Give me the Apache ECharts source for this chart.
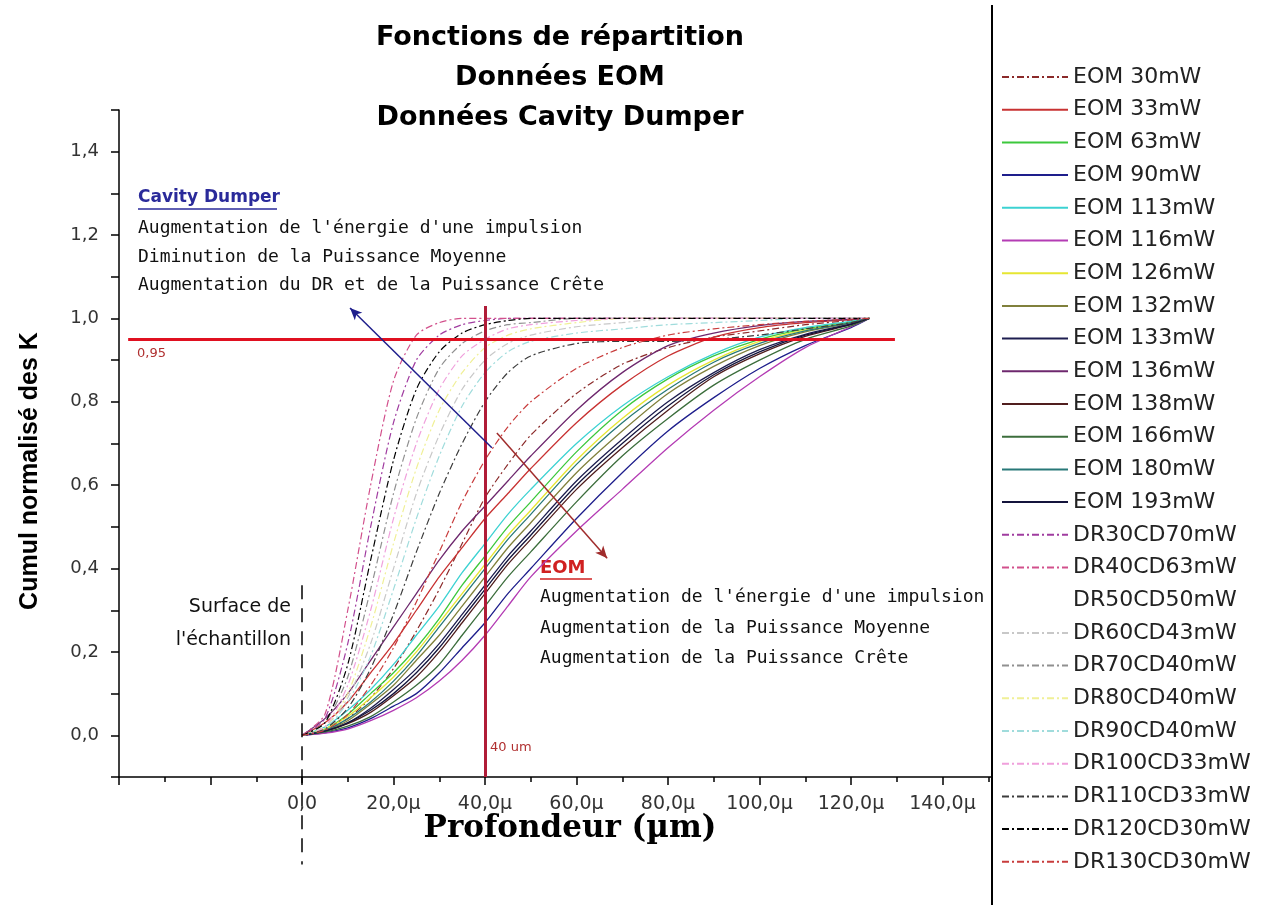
<!DOCTYPE html>
<html>
<head>
<meta charset="utf-8">
<script src="https://cdn.jsdelivr.net/npm/echarts@6/dist/echarts.min.js"></script>
<style>
  html, body { margin: 0; padding: 0; background: #fff; }
  #chart { width: 1284px; height: 908px; }
</style>
</head>
<body>
<div id="chart"></div>
<script>
// profondeur (µm) commune à toutes les courbes
const depth = [0, 5, 10, 15, 20, 25, 30, 35, 40, 45, 50, 60, 70, 80, 90, 100, 110, 120, 124];

// courbes EOM (traits pleins sauf 30mW)
const eom30  = [0, 0.01, 0.04, 0.09, 0.16, 0.25, 0.35, 0.46, 0.57, 0.65, 0.72, 0.82, 0.89, 0.93, 0.955, 0.97, 0.985, 0.995, 1];
const eom33  = [0, 0.03, 0.08, 0.15, 0.22, 0.30, 0.38, 0.45, 0.52, 0.58, 0.64, 0.75, 0.84, 0.91, 0.955, 0.978, 0.99, 0.997, 1];
const eom63  = [0, 0.015, 0.05, 0.10, 0.15, 0.21, 0.28, 0.36, 0.43, 0.50, 0.56, 0.68, 0.78, 0.855, 0.91, 0.95, 0.975, 0.992, 1];
const eom90  = [0, 0.006, 0.018, 0.04, 0.07, 0.10, 0.15, 0.21, 0.27, 0.34, 0.40, 0.52, 0.63, 0.73, 0.81, 0.88, 0.935, 0.978, 1];
const eom113 = [0, 0.02, 0.06, 0.11, 0.17, 0.24, 0.31, 0.39, 0.46, 0.53, 0.59, 0.70, 0.79, 0.86, 0.915, 0.955, 0.978, 0.993, 1];
const eom116 = [0, 0.005, 0.015, 0.035, 0.06, 0.09, 0.13, 0.18, 0.24, 0.31, 0.38, 0.49, 0.59, 0.69, 0.78, 0.86, 0.93, 0.98, 1];
const eom126 = [0, 0.015, 0.045, 0.09, 0.14, 0.20, 0.27, 0.34, 0.41, 0.48, 0.54, 0.66, 0.76, 0.84, 0.90, 0.945, 0.972, 0.99, 1];
const eom132 = [0, 0.012, 0.035, 0.075, 0.12, 0.18, 0.24, 0.31, 0.38, 0.45, 0.51, 0.63, 0.73, 0.82, 0.885, 0.935, 0.968, 0.989, 1];
const eom133 = [0, 0.01, 0.03, 0.065, 0.11, 0.16, 0.22, 0.29, 0.36, 0.43, 0.49, 0.61, 0.71, 0.80, 0.87, 0.925, 0.962, 0.987, 1];
const eom136 = [0, 0.04, 0.10, 0.18, 0.26, 0.34, 0.42, 0.49, 0.55, 0.61, 0.67, 0.78, 0.87, 0.935, 0.965, 0.983, 0.993, 0.998, 1];
const eom138 = [0, 0.01, 0.028, 0.055, 0.095, 0.14, 0.20, 0.27, 0.34, 0.41, 0.47, 0.59, 0.69, 0.78, 0.86, 0.915, 0.957, 0.985, 1];
const eom166 = [0, 0.008, 0.022, 0.045, 0.08, 0.12, 0.17, 0.24, 0.31, 0.38, 0.44, 0.56, 0.67, 0.76, 0.84, 0.90, 0.95, 0.982, 1];
const eom180 = [0, 0.012, 0.04, 0.08, 0.13, 0.19, 0.26, 0.33, 0.40, 0.47, 0.53, 0.65, 0.75, 0.83, 0.895, 0.94, 0.97, 0.99, 1];
const eom193 = [0, 0.01, 0.03, 0.06, 0.10, 0.15, 0.21, 0.28, 0.35, 0.42, 0.48, 0.60, 0.70, 0.79, 0.865, 0.92, 0.96, 0.986, 1];

// courbes Cavity Dumper (tirets)
const dr30cd70  = [0, 0.04, 0.22, 0.50, 0.75, 0.90, 0.96, 0.985, 0.995, 1, 1, 1, 1, 1, 1, 1, 1, 1, 1];
const dr40cd63  = [0, 0.05, 0.30, 0.60, 0.85, 0.96, 0.99, 1, 1, 1, 1, 1, 1, 1, 1, 1, 1, 1, 1];
const dr50cd50  = [0, 0.02, 0.11, 0.28, 0.49, 0.67, 0.80, 0.89, 0.94, 0.965, 0.98, 0.99, 1, 1, 1, 1, 1, 1, 1];
const dr60cd43  = [0, 0.02, 0.09, 0.22, 0.40, 0.58, 0.72, 0.83, 0.90, 0.94, 0.96, 0.98, 0.99, 1, 1, 1, 1, 1, 1];
const dr70cd40  = [0, 0.03, 0.14, 0.35, 0.58, 0.76, 0.88, 0.94, 0.97, 0.985, 0.99, 1, 1, 1, 1, 1, 1, 1, 1];
const dr80cd40  = [0, 0.02, 0.10, 0.26, 0.46, 0.64, 0.78, 0.87, 0.93, 0.96, 0.975, 0.99, 1, 1, 1, 1, 1, 1, 1];
const dr90cd40  = [0, 0.015, 0.08, 0.19, 0.35, 0.52, 0.67, 0.79, 0.87, 0.92, 0.945, 0.965, 0.975, 0.985, 0.99, 0.995, 1, 1, 1];
const dr100cd33 = [0, 0.02, 0.12, 0.30, 0.52, 0.70, 0.83, 0.91, 0.95, 0.975, 0.985, 0.995, 1, 1, 1, 1, 1, 1, 1];
const dr110cd33 = [0, 0.015, 0.065, 0.16, 0.29, 0.44, 0.58, 0.70, 0.80, 0.87, 0.91, 0.94, 0.945, 0.945, 0.95, 0.96, 0.975, 0.99, 1];
const dr120cd30 = [0, 0.03, 0.17, 0.42, 0.66, 0.83, 0.92, 0.965, 0.985, 0.995, 1, 1, 1, 1, 1, 1, 1, 1, 1];
const dr130cd30 = [0, 0.012, 0.05, 0.12, 0.21, 0.32, 0.44, 0.56, 0.66, 0.74, 0.80, 0.88, 0.93, 0.96, 0.975, 0.985, 0.993, 0.998, 1];

const curves = [
  ['EOM 30mW', eom30, '#8b2a2a', true],
  ['EOM 33mW', eom33, '#c83232', false],
  ['EOM 63mW', eom63, '#3cc83c', false],
  ['EOM 90mW', eom90, '#1e1e8c', false],
  ['EOM 113mW', eom113, '#3cd2d2', false],
  ['EOM 116mW', eom116, '#b43cb4', false],
  ['EOM 126mW', eom126, '#e6e632', false],
  ['EOM 132mW', eom132, '#80803c', false],
  ['EOM 133mW', eom133, '#1e1e50', false],
  ['EOM 136mW', eom136, '#6e286e', false],
  ['EOM 138mW', eom138, '#501e1e', false],
  ['EOM 166mW', eom166, '#3c6e3c', false],
  ['EOM 180mW', eom180, '#287878', false],
  ['EOM 193mW', eom193, '#14143c', false],
  ['DR30CD70mW', dr30cd70, '#a03ca0', true],
  ['DR40CD63mW', dr40cd63, '#d2508c', true],
  ['DR50CD50mW', dr50cd50, '#ffffff', true],
  ['DR60CD43mW', dr60cd43, '#c8c8c8', true],
  ['DR70CD40mW', dr70cd40, '#909090', true],
  ['DR80CD40mW', dr80cd40, '#f0f096', true],
  ['DR90CD40mW', dr90cd40, '#a0dcdc', true],
  ['DR100CD33mW', dr100cd33, '#f0a0dc', true],
  ['DR110CD33mW', dr110cd33, '#3c3c3c', true],
  ['DR120CD30mW', dr120cd30, '#000000', true],
  ['DR130CD30mW', dr130cd30, '#c83c3c', true]
];

// repères
const seuil = 0.95;
const profRef = 40;
const surfaceLine = [[0, 0.36], [0, -0.31]];

const chart = echarts.init(document.getElementById('chart'));

const series = curves.map(function (c) {
  return {
    name: c[0],
    type: 'line',
    symbol: 'none',
    smooth: 0.25,
    animation: false,
    data: depth.map(function (x, i) { return [x, c[1][i]]; }),
    lineStyle: {
      color: c[2],
      width: c[3] ? 1.2 : 1.3,
      type: c[3] ? [7, 3, 2, 3] : 'solid'
    },
    itemStyle: { color: c[2] }
  };
});

// traits de repère + flèches
series.push({
  name: 'reperes',
  type: 'line',
  symbol: 'none',
  clip: false,
  animation: false,
  z: 10,
  data: surfaceLine,
  lineStyle: { color: '#000', width: 1.5, type: [14, 9] },
  markLine: {
    silent: true,
    animation: false,
    symbol: 'none',
    label: { show: false },
    data: [
      [{ coord: [-38, seuil], lineStyle: { color: '#e01020', width: 3, type: 'solid' } }, { coord: [129.6, seuil] }],
      [{ coord: [profRef, 1.03], lineStyle: { color: '#b01c38', width: 3, type: 'solid' } }, { coord: [profRef, -0.1] }],
      [{ coord: [41.5, 0.69], symbol: 'none', lineStyle: { color: '#1e1e8c', width: 1.5, type: 'solid' } },
       { coord: [10.5, 1.025], symbol: 'arrow', symbolSize: [8, 12] }],
      [{ coord: [42.6, 0.725], symbol: 'none', lineStyle: { color: '#a02c2c', width: 1.5, type: 'solid' } },
       { coord: [66.7, 0.425], symbol: 'arrow', symbolSize: [8, 12] }]
    ]
  }
});

const txt = 'DejaVu Sans';
const para = '18px "DejaVu Sans Mono"';

const option = {
  backgroundColor: '#fff',
  title: {
    text: 'Fonctions de répartition\nDonnées EOM\nDonnées Cavity Dumper',
    left: 555,
    top: 13,
    textAlign: 'center',
    textStyle: { fontFamily: 'DejaVu Sans', fontSize: 27, fontWeight: 'bold', lineHeight: 40, color: '#000' }
  },
  grid: { left: 119, right: 250, top: 110, bottom: 131 },
  xAxis: {
    type: 'value',
    min: -40,
    max: 160,
    interval: 20,
    axisLine: { onZero: false, lineStyle: { color: '#000', width: 1.5 } },
    axisTick: { length: 8, lineStyle: { color: '#000', width: 1.5 } },
    minorTick: { show: true, splitNumber: 2, length: 5, lineStyle: { color: '#000', width: 1.5 } },
    splitLine: { show: false },
    axisLabel: {
      margin: 18,
      fontFamily: txt,
      fontSize: 19,
      color: '#333',
      formatter: function (v) {
        if (v < 0) return '';
        if (v === 0) return '0,0';
        return v.toFixed(1).replace('.', ',') + 'µ';
      }
    }
  },
  yAxis: {
    type: 'value',
    min: -0.1,
    max: 1.5,
    interval: 0.1,
    axisLine: { show: true, onZero: false, lineStyle: { color: '#000', width: 1.5 } },
    axisTick: { show: true, length: 8, lineStyle: { color: '#000', width: 1.5 } },
    splitLine: { show: false },
    axisLabel: {
      margin: 20,
      fontFamily: txt,
      fontSize: 18,
      color: '#333',
      formatter: function (v) {
        const k = Math.round(v * 10);
        if (k < 0 || k % 2 !== 0 || k > 14) return '';
        return (k / 10).toFixed(1).replace('.', ',');
      }
    }
  },
  legend: {
    orient: 'vertical',
    left: 996,
    top: 61,
    z: 60,
    selectedMode: false,
    itemWidth: 66,
    itemHeight: 12,
    itemGap: 10.7,
    itemStyle: { opacity: 0 },
    data: curves.map(function (c) { return c[0]; }),
    textStyle: { fontFamily: txt, fontSize: 22, color: '#222' }
  },
  graphic: [
    { type: 'rect', z: 50, shape: { x: 993, y: 0, width: 291, height: 908 }, style: { fill: '#fff' } },
    { type: 'line', z: 51, shape: { x1: 992, y1: 5, x2: 992, y2: 905 }, style: { stroke: '#000', lineWidth: 2 } },
    { type: 'text', rotation: Math.PI / 2, x: 30, y: 471, style: { text: 'Cumul normalisé des K', font: 'bold 25px "Liberation Sans"', fill: '#000', textAlign: 'center', textVerticalAlign: 'middle' } },
    { type: 'text', x: 570, y: 829, style: { text: 'Profondeur (µm)', font: 'bold 31px "DejaVu Serif"', fill: '#000', textAlign: 'center', textVerticalAlign: 'middle' } },
    { type: 'text', x: 137, y: 354, z: 20, style: { text: '0,95', font: '13px "DejaVu Sans"', fill: '#b03030', textVerticalAlign: 'middle' } },
    { type: 'text', x: 490, y: 748, z: 20, style: { text: '40 um', font: '13px "DejaVu Sans"', fill: '#b03030', textVerticalAlign: 'middle' } },
    { type: 'text', x: 291, y: 607, style: { text: 'Surface de', font: '19px "DejaVu Sans"', fill: '#111', textAlign: 'right', textVerticalAlign: 'middle' } },
    { type: 'text', x: 291, y: 640, style: { text: "l'échantillon", font: '19px "DejaVu Sans"', fill: '#111', textAlign: 'right', textVerticalAlign: 'middle' } },
    { type: 'text', x: 138, y: 198, style: { text: 'Cavity Dumper', font: 'bold 17px "DejaVu Sans"', fill: '#2a2a9a', textVerticalAlign: 'middle' } },
    { type: 'line', shape: { x1: 138, y1: 209, x2: 277, y2: 209 }, style: { stroke: '#2a2a9a', lineWidth: 1.5 } },
    { type: 'text', x: 138, y: 228, style: { text: "Augmentation de l'énergie d'une impulsion", font: para, fill: '#111', textVerticalAlign: 'middle' } },
    { type: 'text', x: 138, y: 257, style: { text: 'Diminution de la Puissance Moyenne', font: para, fill: '#111', textVerticalAlign: 'middle' } },
    { type: 'text', x: 138, y: 285, style: { text: 'Augmentation du DR et de la Puissance Crête', font: para, fill: '#111', textVerticalAlign: 'middle' } },
    { type: 'text', x: 540, y: 568, style: { text: 'EOM', font: 'bold 18px "DejaVu Sans"', fill: '#d02020', textVerticalAlign: 'middle' } },
    { type: 'line', shape: { x1: 540, y1: 579, x2: 592, y2: 579 }, style: { stroke: '#d02020', lineWidth: 1.5 } },
    { type: 'text', x: 540, y: 597, style: { text: "Augmentation de l'énergie d'une impulsion", font: para, fill: '#111', textVerticalAlign: 'middle' } },
    { type: 'text', x: 540, y: 628, style: { text: 'Augmentation de la Puissance Moyenne', font: para, fill: '#111', textVerticalAlign: 'middle' } },
    { type: 'text', x: 540, y: 658, style: { text: 'Augmentation de la Puissance Crête', font: para, fill: '#111', textVerticalAlign: 'middle' } }
  ],
  series: series
};

chart.setOption(option);
</script>
</body>
</html>
